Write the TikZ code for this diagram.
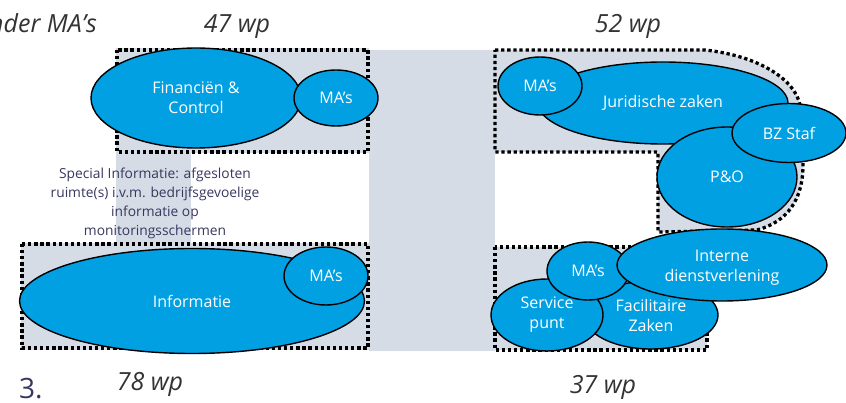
\documentclass[tikz,border=0pt]{standalone}
\usepackage{fontspec}
\setmainfont{Open Sans}
\usetikzlibrary{shapes.geometric}
\definecolor{blobblue}{RGB}{0,160,227}
\definecolor{zone}{RGB}{214,220,229}
\definecolor{wpgray}{RGB}{51,51,51}
\definecolor{navy}{RGB}{55,55,95}
\begin{document}
\begin{tikzpicture}[x=1pt,y=-1pt,
  blob/.style={ellipse, draw=black, line width=1.4pt, fill=blobblue, text=white,
    inner sep=0pt, align=center, font=\fontsize{16}{20}\selectfont},
  bloblabel/.style={text=white, inner sep=0pt, align=center, font=\fontsize{16}{20}\selectfont},
  frame/.style={draw=black, line width=3.3pt, dash pattern=on 3.3pt off 2.8pt},
  wp/.style={font=\fontsize{25}{28}\selectfont\itshape, text=wpgray, inner sep=0pt}]
\useasboundingbox (0,0) rectangle (846,403);
% grey zones
\fill[zone] (116,48) rectangle (369,153);
\fill[zone] (116,153) rectangle (191,245);
\fill[zone] (21,243) rectangle (369,350);
\fill[zone] (369,50) rectangle (495,351);
\fill[zone] (495,50) -- (705,50) .. controls (760,56) and (795,80) .. (800,105)
  -- (803,165) .. controls (803,200) and (787,222) .. (757,230) -- (658,232)
  -- (658,152) -- (495,152) -- cycle;
\fill[zone] (495,247) rectangle (707,350);
% dotted frames
\draw[frame] (117,50) rectangle (368,152);
\draw[frame] (22,244) rectangle (368,348);
\draw[frame] (495,50) -- (705,50) .. controls (760,56) and (795,80) .. (800,105)
  -- (803,165) .. controls (803,200) and (787,222) .. (757,230) -- (658,232)
  -- (658,152) -- (495,152) -- cycle;
\draw[frame] (495,247) rectangle (707,350);
% top left
\node[blob, minimum width=210pt, minimum height=100pt] (fin) at (196,98) {Financiën \&\\Control};
\node[blob, minimum width=84pt, minimum height=56pt] (ma1) at (336,98) {MA’s};
% bottom left
\node[blob, minimum width=345pt, minimum height=105pt] (inf) at (192,301) {Informatie};
\node[blob, minimum width=84pt, minimum height=58pt] (ma2) at (326,276) {MA’s};
% top right
\node[blob, minimum width=250pt, minimum height=82pt] (jur) at (663,103) {Juridische zaken};
\node[blob, minimum width=84pt, minimum height=58pt] (ma3) at (540,86) {MA’s};
\node[blob, minimum width=140pt, minimum height=100pt] (po) at (727,177) {P\&O};
\node[blob, minimum width=114pt, minimum height=59pt] (bz) at (789,133) {BZ Staf};
% bottom right
\node[blob, minimum width=134pt, minimum height=68pt] (fac) at (651,315) {Facilitaire\\Zaken};
\node[blob, minimum width=112pt, minimum height=72pt] (sp) at (547,315) {Service\\punt};
\node[blob, minimum width=82pt, minimum height=58pt] (ma4) at (588,271) {MA’s};
\node[blob, minimum width=210pt, minimum height=72pt] (idv) at (722,265) {};
\node[bloblabel] (idvt) at (722,268) {Interne\\dienstverlening};
% texts
\node[wp, anchor=base] (t47) at (237,33) {47 wp};
\node[wp, anchor=base] (t52) at (628,33) {52 wp};
\node[wp, anchor=base] (t78) at (150,390) {78 wp};
\node[wp, anchor=base] (t37) at (603,393) {37 wp};
\node[wp, anchor=base east] (tma) at (97,33) {onder MA’s};
\node[font=\fontsize{28}{30}\selectfont, text=navy, inner sep=0pt, anchor=base west] (t3) at (19,398) {3.};
\node[font=\fontsize{13.8}{19}\selectfont, text=navy, align=center, inner sep=0pt] (spec) at (155,203)
  {Special Informatie: afgesloten\\ruimte(s) i.v.m. bedrijfsgevoelige\\informatie op\\monitoringsschermen};
\end{tikzpicture}
\end{document}
